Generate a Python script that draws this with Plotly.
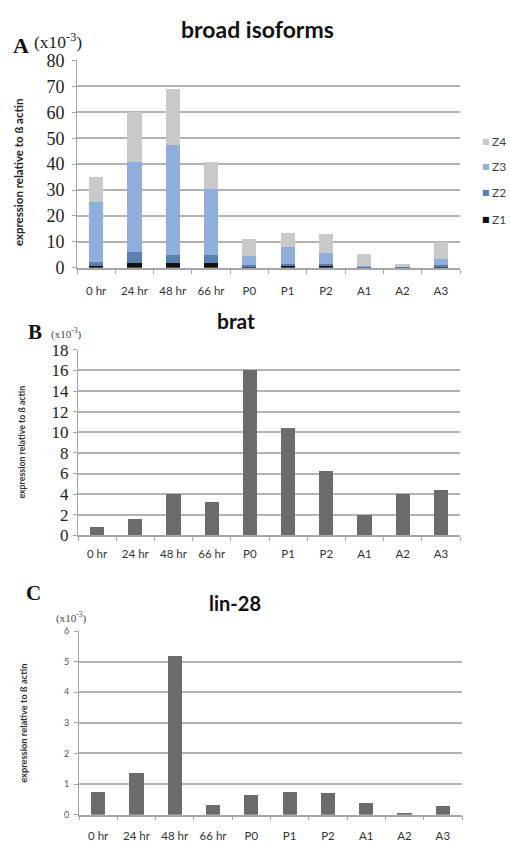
import plotly.graph_objects as go

W, H = 510, 853

categories = ["0 hr", "24 hr", "48 hr", "66 hr", "P0", "P1", "P2", "A1", "A2", "A3"]

# broad isoforms (x10^-3), stacked Z1..Z4
z1 = [0.8, 2.0, 2.0, 2.0, 0.3, 0.8, 0.6, 0.1, 0.1, 0.3]
z2 = [1.5, 4.0, 3.0, 3.0, 0.8, 0.7, 1.0, 0.3, 0.1, 0.7]
z3 = [23.0, 35.0, 42.5, 25.5, 3.4, 6.5, 4.0, 0.4, 0.1, 2.5]
z4 = [9.7, 19.0, 21.5, 10.5, 6.5, 5.5, 7.5, 4.7, 1.2, 6.5]
isoform_names = ["Z1", "Z2", "Z3", "Z4"]
isoform_colors = ["#111111", "#5b7fae", "#8faedd", "#c9c9c9"]

# brat (x10^-3)
brat = [0.8, 1.6, 4.0, 3.2, 16.0, 10.4, 6.2, 2.0, 4.0, 4.4]
# lin-28 (x10^-3)
lin28 = [0.73, 1.37, 5.2, 0.32, 0.65, 0.73, 0.70, 0.39, 0.03, 0.28]

bar_color = "#6b6b6b"
grid_color = "#b3b3b3"
axis_color = "#a6a6a6"


def px_x(x):
    return x / W


def px_y(y):
    return 1 - y / H


fig = go.Figure()

for name, vals, col in zip(isoform_names, [z1, z2, z3, z4], isoform_colors):
    fig.add_trace(go.Bar(x=categories, y=vals, name=name, marker_color=col,
                         marker_line_width=0, width=0.37, xaxis="x", yaxis="y",
                         showlegend=False))

fig.add_trace(go.Bar(x=categories, y=brat, name="brat", marker_color=bar_color,
                     marker_line_width=0, width=0.37, xaxis="x2", yaxis="y2",
                     showlegend=False))
fig.add_trace(go.Bar(x=categories, y=lin28, name="lin-28", marker_color=bar_color,
                     marker_line_width=0, width=0.37, xaxis="x3", yaxis="y3",
                     showlegend=False))

xlabel_font = dict(family="Lato, Open Sans, sans-serif", size=11.5, color="#333333")


def xaxis_cfg(anchor, dom, standoff):
    return dict(anchor=anchor, domain=dom, type="category", showgrid=False,
                showline=True, linecolor=axis_color, linewidth=1.5,
                ticks="outside", tickson="boundaries", ticklen=4,
                tickcolor=axis_color, tickfont=xlabel_font,
                ticklabelstandoff=standoff, fixedrange=True)


def yaxis_cfg(anchor, dom, rng, dtick, font, standoff):
    return dict(anchor=anchor, domain=dom, range=rng, dtick=dtick, tick0=0,
                showgrid=True, gridcolor=grid_color, gridwidth=1.5,
                zeroline=False, showline=True, linecolor=axis_color, linewidth=1,
                ticks="outside", ticklen=4, tickcolor=axis_color,
                tickfont=font, ticklabelstandoff=standoff, fixedrange=True)


serif = "Liberation Serif, Times New Roman, serif"
sans = "Lato, Open Sans, sans-serif"

fig.update_layout(
    width=W, height=H,
    margin=dict(l=0, r=0, t=0, b=0),
    paper_bgcolor="white", plot_bgcolor="white",
    barmode="stack",
    showlegend=False,
    xaxis=xaxis_cfg("y", [px_x(77), px_x(460)], 12),
    yaxis=yaxis_cfg("x", [px_y(264), px_y(51.7)], [0, 80], 10,
                    dict(family=serif, size=18, color="#222222"), 4),
    xaxis2=xaxis_cfg("y2", [px_x(78), px_x(460)], 7),
    yaxis2=yaxis_cfg("x2", [px_y(538), px_y(348)], [0, 18], 2,
                     dict(family=serif, size=17, color="#222222"), 1),
    xaxis3=xaxis_cfg("y3", [px_x(79), px_x(462)], 10),
    yaxis3=yaxis_cfg("x3", [px_y(824), px_y(636)], [0, 6], 1,
                     dict(family=sans, size=9, color="#555555"), 3),
)

annotations = []


def add_text(text, x, y, size, family, color="#111111", bold=False, angle=0,
             xanchor="center"):
    if bold:
        text = "<b>" + text + "</b>"
    annotations.append(dict(text=text, x=px_x(x), y=px_y(y), xref="paper", yref="paper",
                            showarrow=False, xanchor=xanchor, yanchor="middle",
                            textangle=angle,
                            font=dict(size=size, family=family, color=color)))


# panel titles
add_text("broad isoforms", 257, 19, 23, sans, bold=True)
add_text("brat", 236, 318, 21, sans, bold=True)
add_text("lin-28", 235, 607, 20, sans, bold=True)

# panel letters
add_text("A", 21, 36, 22, serif, bold=True)
add_text("B", 35, 330, 21, serif, bold=True)
add_text("C", 33, 597, 21, serif, bold=True)

# scale notes
add_text("(x10<sup>-3</sup>)", 32, 32, 17.5, serif, color="#222222", xanchor="left")
add_text("(x10<sup>-3</sup>)", 49, 331, 11, serif, color="#444444", xanchor="left")
add_text("(x10<sup>-3</sup>)", 54, 622, 11, serif, color="#444444", xanchor="left")

# y-axis titles
add_text("expression relative to ß actin", 18, 166, 11.5, sans, color="#222222",
         bold=True, angle=-90)
add_text("expression relative to ß actin", 22, 443, 8.8, sans, color="#333333",
         bold=True, angle=-90)
add_text("expression relative to ß actin", 24, 731, 9.3, sans, color="#333333",
         bold=True, angle=-90)

# isoform key (top to bottom: Z4, Z3, Z2, Z1)
key_y = [215, 187, 160, 135]
for name, col, ky in zip(isoform_names, isoform_colors, key_y):
    add_text("■", 485.5, ky, 8, "DejaVu Sans", color=col)
    add_text(name, 490, ky, 12, sans, color="#444444", xanchor="left")

fig.update_layout(annotations=annotations)

fig.write_html("out.html")
